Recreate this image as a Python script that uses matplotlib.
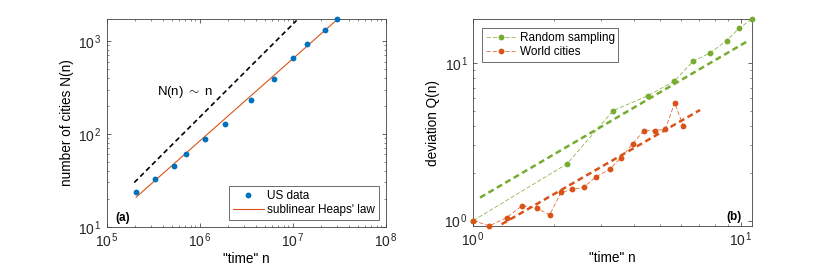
import matplotlib
matplotlib.use("Agg")
import matplotlib.pyplot as plt
import matplotlib.ticker as mticker
import numpy as np

plt.rcParams.update({
    "font.family":       "Liberation Sans",
    "mathtext.fontset":  "custom",
    "mathtext.rm":       "Liberation Sans",
    "mathtext.it":       "Liberation Sans:italic",
    "mathtext.bf":       "Liberation Sans:bold",
    "font.size":         9.8,
    "axes.linewidth":    0.6,
    "axes.edgecolor":    "#404040",
    "xtick.color":       "#262626",
    "ytick.color":       "#262626",
    "xtick.direction":   "in",
    "ytick.direction":   "in",
    "xtick.top":         True,
    "ytick.right":       True,
    "xtick.labelsize":   10,
    "ytick.labelsize":   10,
    "xtick.major.size":  3.0,
    "ytick.major.size":  3.0,
    "xtick.minor.size":  1.6,
    "ytick.minor.size":  1.6,
    "xtick.major.width": 0.5,
    "ytick.major.width": 0.5,
    "xtick.minor.width": 0.4,
    "ytick.minor.width": 0.4,
})

BLUE   = "#0072BD"
ORANGE = "#D95319"
GREEN  = "#77AC30"

# ── (a) US data: number of cities vs "time" ──────────────────────────────────
us_n      = [2.07e5, 3.28e5, 5.35e5, 7.06e5, 1.15e6, 1.87e6,
             3.59e6, 6.30e6, 1.00e7, 1.43e7, 2.23e7, 3.02e7]
us_cities = [23.9, 32.7, 45.5, 60.8, 89, 129,
             233, 386, 656, 930, 1325, 1713]
heaps_exp, heaps_logc = 0.885, -3.387      # sublinear Heaps' law fit
lin_logc = -3.82                            # N(n) ~ n guide
guide_n  = [1.98e5, 1.10e7]

# ── (b) deviation Q(n) ────────────────────────────────────────────────────────
rand_t = [1.0, 2.24, 3.34, 4.49, 5.65, 6.65, 7.68, 8.87, 9.88, 11.0]
rand_q = [1.0, 2.29, 5.00, 6.20, 7.69, 10.3, 11.6, 13.9, 16.7, 19.0]
world_t = [1.0, 1.148, 1.333, 1.525, 1.726, 1.93, 2.13, 2.35, 2.59, 2.88,
           3.24, 3.56, 3.95, 4.35, 4.77, 5.23, 5.67, 6.10]
world_q = [1.0, 0.925, 1.045, 1.245, 1.20, 1.087, 1.51, 1.58, 1.63, 1.90,
           2.12, 2.50, 3.08, 3.73, 3.72, 3.83, 5.60, 4.00]
rand_fit  = (0.993, 0.121)     # slope, log10 intercept
world_fit = (0.978, -0.127)
rand_fit_t  = [1.06, 10.67]
world_fit_t = [1.277, 7.05]


def _pow10(v, pos=None):
    e = int(round(np.log10(v)))
    return r"$\mathregular{10^{\,%d}}$" % e


def _log_axes(ax):
    ax.set_xscale("log")
    ax.set_yscale("log")
    ax.xaxis.set_major_formatter(mticker.FuncFormatter(_pow10))
    ax.yaxis.set_major_formatter(mticker.FuncFormatter(_pow10))
    ax.xaxis.set_minor_formatter(mticker.NullFormatter())
    ax.yaxis.set_minor_formatter(mticker.NullFormatter())
    ax.tick_params(which="both", top=True, right=True)


fig = plt.figure(figsize=(8.3, 2.68), dpi=100)
ax1 = fig.add_axes([0.1286, 0.154, 0.3361, 0.774])
ax2 = fig.add_axes([0.5702, 0.157, 0.3354, 0.771])

# panel (a)
_log_axes(ax1)
gx = np.array(guide_n)
ax1.plot(gx, gx * 10 ** lin_logc, color="black", lw=1.2,
         dashes=(3.0, 2.0), zorder=2)
fx = np.array([us_n[0], us_n[-1]])
ax1.plot(us_n, us_cities, "o", color=BLUE, ms=4.2, mew=0,
         label="US data", clip_on=False, zorder=3)
ax1.plot(fx, 10 ** heaps_logc * fx ** heaps_exp, color=ORANGE, lw=0.8,
         label="sublinear Heaps' law", zorder=2)
ax1.set_xlim(1e5, 1e8)
ax1.set_ylim(10, 1713)
ax1.xaxis.set_major_locator(mticker.LogLocator(base=10, numticks=10))
ax1.set_xlabel('"time" n', labelpad=1)
ax1.set_ylabel("number of cities N(n)", labelpad=3)
ax1.text(0.179, 0.651, r"N(n) $\sim$ n", transform=ax1.transAxes,
         fontsize=9.5, va="center", ha="left")
ax1.text(0.03, 0.042, "(a)", transform=ax1.transAxes, fontsize=8.5,
         fontweight="bold", va="center", ha="left")
leg1 = ax1.legend(loc="lower right", fontsize=8.5, fancybox=False,
                  framealpha=1, edgecolor="#555555", borderaxespad=0.6,
                  handlelength=2.6, borderpad=0.3, labelspacing=0.2,
                  handletextpad=0.3)
leg1.get_frame().set_linewidth(0.6)

# panel (b)
_log_axes(ax2)
for t, q, c, fit, ft, lab in [
        (rand_t, rand_q, GREEN, rand_fit, rand_fit_t, "Random sampling"),
        (world_t, world_q, ORANGE, world_fit, world_fit_t, "World cities")]:
    tt = np.array(ft)
    ax2.plot(tt, 10 ** fit[1] * tt ** fit[0], color=c, lw=1.8,
             dashes=(2.4, 1.5), zorder=2)
    ax2.plot(t, q, "o", color=c, ms=4.2, mew=0, ls=(0, (6, 3)), lw=0.5,
             label=lab, clip_on=False, zorder=3)
ax2.set_xlim(1, 11)
ax2.set_ylim(0.925, 19.0)
ax2.set_xlabel('"time" n', labelpad=1)
ax2.set_ylabel("deviation Q(n)", labelpad=3)
ax2.text(0.964, 0.045, "(b)", transform=ax2.transAxes, fontsize=8.5,
         fontweight="bold", va="center", ha="right")
leg2 = ax2.legend(loc="upper left", fontsize=8.5, fancybox=False,
                  framealpha=1, edgecolor="#555555", borderaxespad=0.75,
                  handlelength=2.6, borderpad=0.3, labelspacing=0.2,
                  handletextpad=0.3)
leg2.get_frame().set_linewidth(0.6)

fig.savefig("out.png", dpi=100)
